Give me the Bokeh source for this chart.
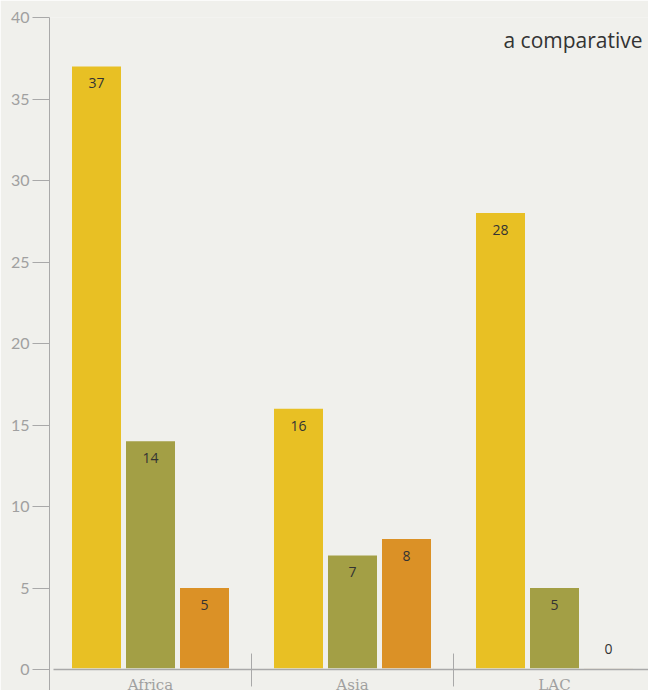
import numpy as np
from bokeh.plotting import figure
from bokeh.models import Range1d, FixedTicker
from bokeh.core.properties import value
from bokeh.embed import file_html
from bokeh.resources import INLINE

# ---- data ----
regions = ["Africa", "Asia", "LAC"]
series_yellow = [37, 16, 28]
series_olive = [14, 7, 5]
series_orange = [5, 8, 0]
y_ticks = [0, 5, 10, 15, 20, 25, 30, 35, 40]
note_text = "a comparative"

# ---- style ----
BG = "#F0F0EC"
GRAY = "#A9A9A9"
LABEL_GRAY = "#A0A0A0"
DARK = "#333333"
COLORS = ["#E8C024", "#A39F45", "#DB9126"]

GROUP_PX = 202.0
BAR_W = 49 / GROUP_PX
STEP = 54 / GROUP_PX

p = figure(width=648, height=690, output_backend="svg", toolbar_location=None,
           title=None,
           x_range=Range1d(0, 599 / GROUP_PX), y_range=Range1d(-1.288, 40),
           min_border_left=49, min_border_top=17, min_border_right=0,
           min_border_bottom=0, x_axis_location=None,
           background_fill_color=BG, border_fill_color=BG,
           outline_line_color=None)
p.grid.visible = False

centers = np.arange(len(regions)) + 0.5
all_series = [series_yellow, series_olive, series_orange]
offsets = [-STEP, 0.0, STEP]

for vals, off, col in zip(all_series, offsets, COLORS):
    v = np.array(vals, dtype=float)
    xs = centers + off
    alphas = np.where(v > 0, 1.0, 0.2)
    p.vbar(x=xs, top=np.maximum(v, 0.1), bottom=0.08, width=BAR_W,
           fill_color=col, line_color=None, fill_alpha=alphas)
    yoff = np.where(v > 0, 17, -21)
    p.text(x=xs, y=v, text=[str(int(a)) for a in v], y_offset=yoff,
           text_align="center", text_baseline="middle",
           text_font=value("Open Sans"), text_font_size="14px",
           text_color=DARK)

# baseline
p.segment(x0=[4 / GROUP_PX], y0=[0], x1=[3.0], y1=[0], line_color=GRAY, line_width=1.5)
# group separators
seps = np.arange(1, len(regions))
p.segment(x0=seps, y0=0.98, x1=seps, y1=-1.04, line_color=GRAY, line_width=1)
# category labels
p.text(x=centers, y=-0.93, text=regions, text_align="center",
       text_baseline="alphabetic", text_font=value("DejaVu Serif"),
       text_font_size="15px", text_color=LABEL_GRAY)

# note text at top right
p.text(x=[(503 - 49) / GROUP_PX], y=[38.65], text=[note_text],
       text_align="left", text_baseline="alphabetic",
       text_font=value("Open Sans"), text_font_size="21px", text_color=DARK)

ax = p.yaxis[0]
ax.ticker = FixedTicker(ticks=y_ticks)
ax.minor_tick_line_color = None
ax.major_tick_in = 0
ax.major_tick_out = 17
ax.major_tick_line_color = GRAY
ax.axis_line_color = GRAY
ax.major_label_standoff = 3
ax.major_label_text_color = LABEL_GRAY
ax.major_label_text_font = "Lato"
ax.major_label_text_font_size = "16px"

open("out.html", "w").write(file_html(p, INLINE))
